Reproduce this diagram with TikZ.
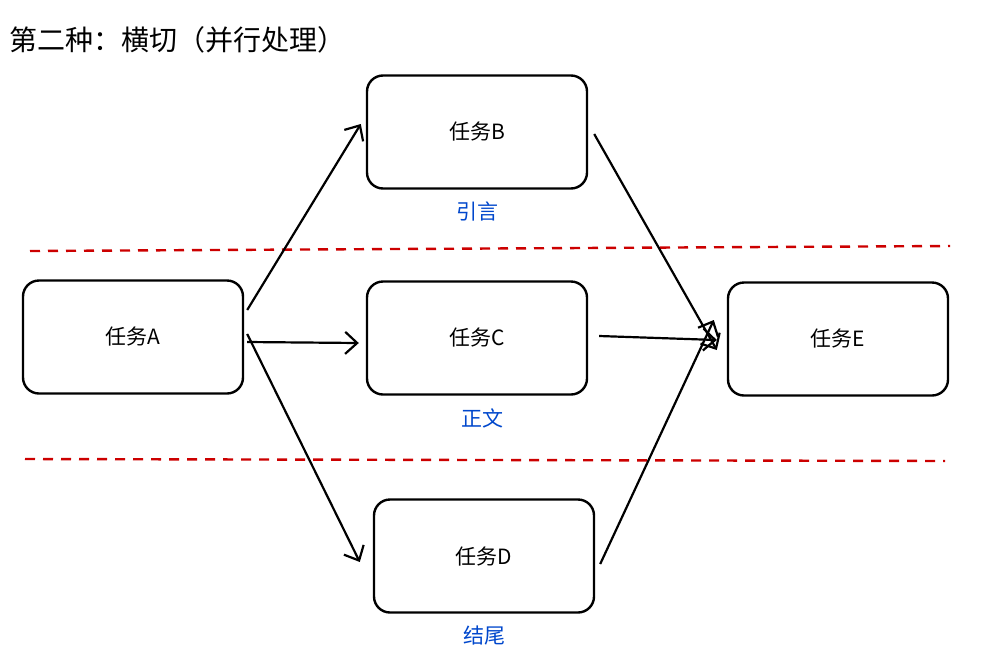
\documentclass[tikz,border=0pt]{standalone}
\usepackage{fontspec}
\setmainfont{Noto Sans CJK SC}
\usetikzlibrary{arrows.meta}
\begin{document}
\begin{tikzpicture}[x=1pt,y=-1pt,
  box/.style={draw,line width=2.4pt,rounded corners=16pt,minimum width=220pt,minimum height=113pt,font=\fontsize{21}{24}\selectfont},
  lab/.style={text=blue!65!cyan!80!black,font=\fontsize{21}{24}\selectfont},
  arr/.style={line width=2.2pt,-{Straight Barb[length=12pt,width=22pt]}},
  sep/.style={draw=red!80!black,line width=2.4pt,dash pattern=on 10pt off 8pt}]
\useasboundingbox (0,0) rectangle (981,659);
\node[anchor=west,font=\fontsize{28}{32}\selectfont] (t) at (6,40) {第二种：横切（并行处理）};
\node[box] (A) at (133,337) {任务A};
\node[box] (B) at (477,132) {任务B};
\node[box] (C) at (477,338) {任务C};
\node[box] (D) at (484,556) {任务D};
\node[box] (E) at (838,339) {任务E};
\node[lab] (lb) at (477,211) {引言};
\node[lab] (lc) at (482,418) {正文};
\node[lab] (ld) at (484,635) {结尾};
\coordinate (s1) at (30,251); \coordinate (s2) at (950,246);
\coordinate (s3) at (25,459); \coordinate (s4) at (945,461);
\draw[sep] (s1) -- (s2);
\draw[sep] (s3) -- (s4);
\draw[arr] (A.east) ++(3,-27) -- ([xshift=-5pt,yshift=8pt]B.west);
\draw[arr] ([xshift=3pt,yshift=-5pt]A.east) -- ([xshift=-7pt,yshift=-5pt]C.west);
\draw[arr] ([xshift=3pt,yshift=3pt]A.east) -- ([xshift=-13pt,yshift=-6pt]D.west);
\draw[arr] ([xshift=6pt,yshift=-2pt]B.east) -- ([xshift=-10pt,yshift=-11pt]E.west);
\draw[arr] ([xshift=11pt,yshift=2pt]C.east) -- ([xshift=-10pt,yshift=-1pt]E.west);
\draw[arr] ([xshift=5pt,yshift=-8pt]D.east) -- ([xshift=-13pt,yshift=19pt]E.west);
\end{tikzpicture}
\end{document}
